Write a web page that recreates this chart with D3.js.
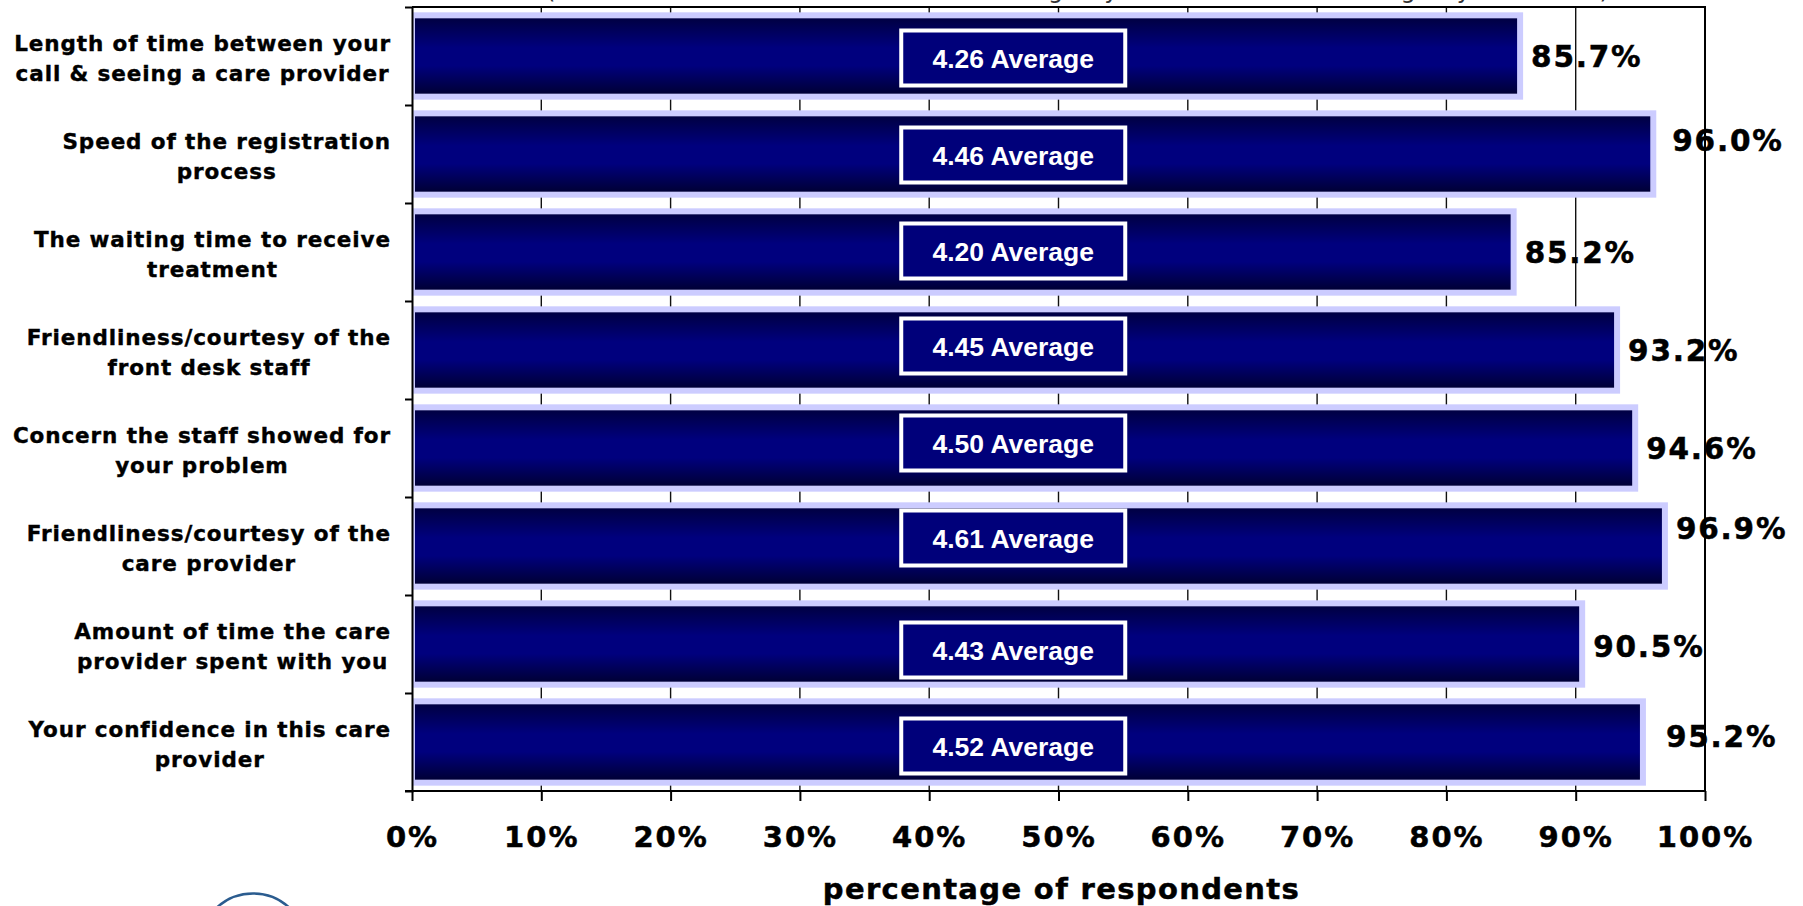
<!DOCTYPE html>
<html>
<head>
<meta charset="utf-8">
<script src="https://cdn.jsdelivr.net/npm/d3@7"></script>
<style>
  body { margin: 0; background: #fff; }
  svg { display: block; }
</style>
</head>
<body>
<svg width="1803" height="906"></svg>
<script>
const categories = [
  "Length of time between your\ncall & seeing a care provider",
  "Speed of the registration\nprocess",
  "The waiting time to receive\ntreatment",
  "Friendliness/courtesy of the\nfront desk staff",
  "Concern the staff showed for\nyour problem",
  "Friendliness/courtesy of the\ncare provider",
  "Amount of time the care\nprovider spent with you",
  "Your confidence in this care\nprovider",
];
const percentages = [85.7, 96.0, 85.2, 93.2, 94.6, 96.9, 90.5, 95.2];
const averages = [4.26, 4.46, 4.2, 4.45, 4.5, 4.61, 4.43, 4.52];
const xTicks = [0, 10, 20, 30, 40, 50, 60, 70, 80, 90, 100];
const xTitle = "percentage of respondents";
const topNote =
  "(Based on a scale of 1 to 5 where 5 = meaning very satisfied and 1 = meaning very dissatisfied)";

// the original labels were dragged by hand, so a few sit off-centre (px)
const valueNudgeX = [0, 8, 0, 0, 0, 0, 0, 12];
const valueNudgeY = [0, -14, 0, 0, 0, -18, 2, -6];
const boxNudgeY = [2, 1, -1, -4, -5, -8, 6, 4];

const svg = d3.select("svg");
const plot = { left: 412, right: 1705, top: 7, bottom: 791 };
const boldFont = "'DejaVu Sans', Verdana, sans-serif";

const x = d3.scaleLinear().domain([0, 100]).range([plot.left, plot.right]);
const y = d3
  .scaleBand()
  .domain(d3.range(categories.length))
  .range([plot.top, plot.bottom])
  .paddingInner(0.17)
  .paddingOuter(0.085);
const yEdge = d3
  .scaleLinear()
  .domain([0, categories.length])
  .range([plot.top, plot.bottom]);

const defs = svg.append("defs");
const grad = defs
  .append("linearGradient")
  .attr("id", "barFill")
  .attr("x1", 0)
  .attr("y1", 0)
  .attr("x2", 0)
  .attr("y2", 1);
[
  ["0%", "#00003c"],
  ["40%", "#00007e"],
  ["62%", "#00007e"],
  ["100%", "#00002e"],
].forEach(([offset, color]) =>
  grad.append("stop").attr("offset", offset).attr("stop-color", color)
);
defs
  .append("clipPath")
  .attr("id", "plotClip")
  .append("rect")
  .attr("x", plot.left)
  .attr("y", 0)
  .attr("width", 1803 - plot.left)
  .attr("height", 906);

// subtitle sits above the picture's top edge, only descenders show
svg
  .append("text")
  .attr("x", 546)
  .attr("y", -2.5)
  .attr("textLength", 1063)
  .attr("lengthAdjust", "spacing")
  .attr("font-family", "'DejaVu Sans', sans-serif")
  .attr("font-size", 24)
  .attr("fill", "#333")
  .text(topNote);

// Vertical gridlines
svg
  .append("g")
  .selectAll("line")
  .data(xTicks.slice(1, -1))
  .enter()
  .append("line")
  .attr("x1", (d) => x(d))
  .attr("x2", (d) => x(d))
  .attr("y1", plot.top)
  .attr("y2", plot.bottom)
  .attr("stroke", "#111")
  .attr("stroke-width", 1.4);

// Bars
svg
  .append("g")
  .attr("clip-path", "url(#plotClip)")
  .selectAll("rect")
  .data(percentages)
  .enter()
  .append("rect")
  .attr("x", x(0))
  .attr("y", (d, i) => y(i))
  .attr("width", (d) => x(d) - x(0))
  .attr("height", y.bandwidth())
  .attr("fill", "url(#barFill)")
  .attr("stroke", "#ccccff")
  .attr("stroke-width", 6);

// Frame: top and right
svg
  .append("path")
  .attr("d", `M${plot.left},${plot.top}H${plot.right}V${plot.bottom}`)
  .attr("fill", "none")
  .attr("stroke", "#000")
  .attr("stroke-width", 2);

// Axes
const xAxis = svg
  .append("g")
  .attr("transform", `translate(0,${plot.bottom})`)
  .call(
    d3
      .axisBottom(x)
      .tickValues(xTicks)
      .tickSize(10)
      .tickSizeOuter(0)
      .tickFormat((d) => d + "%")
  );
xAxis.select(".domain").attr("stroke-width", 2).attr("d", `M${plot.left - 7},0H${plot.right}`);
xAxis.selectAll(".tick line").attr("stroke-width", 2);
xAxis
  .selectAll(".tick text")
  .attr("y", 56)
  .attr("dy", null)
  .attr("font-family", boldFont)
  .attr("font-weight", "bold")
  .attr("font-size", 29)
  .attr("letter-spacing", 2)
  .attr("fill", "#000")
  .attr("stroke", "#000")
  .attr("stroke-width", 0.5);

const yAxis = svg
  .append("g")
  .attr("transform", `translate(${plot.left},0)`)
  .call(
    d3
      .axisLeft(yEdge)
      .tickValues(d3.range(1, categories.length))
      .tickSize(7)
      .tickSizeOuter(7)
      .tickFormat("")
  );
yAxis.select(".domain").attr("stroke-width", 2);
yAxis.selectAll(".tick line").attr("stroke-width", 2);

// Category labels, lines centred, block right-aligned
const catLabels = svg
  .append("g")
  .selectAll("text")
  .data(categories)
  .enter()
  .append("text")
  .attr("font-family", boldFont)
  .attr("font-weight", "bold")
  .attr("font-size", 21.5)
  .attr("letter-spacing", 0.9)
  .attr("text-anchor", "middle")
  .attr("fill", "#000")
  .attr("stroke", "#000")
  .attr("stroke-width", 0.4);
catLabels.each(function (d, i) {
  const t = d3.select(this);
  const cy = y(i) + y.bandwidth() / 2;
  const lines = d.split("\n");
  lines.forEach((line, k) =>
    t.append("tspan").attr("y", cy - 5 + k * 30).text(line)
  );
  const widest = d3.max(t.selectAll("tspan").nodes(), (n) => n.getComputedTextLength());
  t.selectAll("tspan").attr("x", 391 - widest / 2);
});

// Value labels
svg
  .append("g")
  .selectAll("text")
  .data(percentages)
  .enter()
  .append("text")
  .attr("x", (d, i) => x(d) + 11 + valueNudgeX[i])
  .attr("y", (d, i) => y(i) + y.bandwidth() / 2 + 10.5 + valueNudgeY[i])
  .attr("font-family", boldFont)
  .attr("font-weight", "bold")
  .attr("font-size", 29.5)
  .attr("letter-spacing", 1.8)
  .attr("fill", "#000")
  .attr("stroke", "#000")
  .attr("stroke-width", 0.5)
  .text((d) => d.toFixed(1) + "%");

// Average boxes
const boxW = 224;
const boxH = 55;
const boxes = svg
  .append("g")
  .selectAll("g")
  .data(averages)
  .enter()
  .append("g")
  .attr(
    "transform",
    (d, i) => `translate(${x(46.5)}, ${y(i) + y.bandwidth() / 2 + boxNudgeY[i]})`
  );
boxes
  .append("rect")
  .attr("x", -boxW / 2)
  .attr("y", -boxH / 2)
  .attr("width", boxW)
  .attr("height", boxH)
  .attr("fill", "#00007a")
  .attr("stroke", "#fff")
  .attr("stroke-width", 4);
boxes
  .append("text")
  .attr("y", 9.5)
  .attr("text-anchor", "middle")
  .attr("font-family", "'Liberation Sans', Arial, sans-serif")
  .attr("font-weight", "bold")
  .attr("font-size", 26.5)
  .attr("fill", "#fff")
  .text((d) => d.toFixed(2) + " Average");

// Axis title
svg
  .append("text")
  .attr("x", (plot.left + plot.right) / 2 + 3)
  .attr("y", 899)
  .attr("text-anchor", "middle")
  .attr("font-family", boldFont)
  .attr("font-weight", "bold")
  .attr("font-size", 29)
  .attr("letter-spacing", 1.35)
  .attr("fill", "#000")
  .attr("stroke", "#000")
  .attr("stroke-width", 0.5)
  .text(xTitle);

// Edge of a logo peeking in at the bottom left
svg
  .append("circle")
  .attr("cx", 253)
  .attr("cy", 947)
  .attr("r", 53.5)
  .attr("fill", "none")
  .attr("stroke", "#2b5c8f")
  .attr("stroke-width", 2.5);
</script>
</body>
</html>
